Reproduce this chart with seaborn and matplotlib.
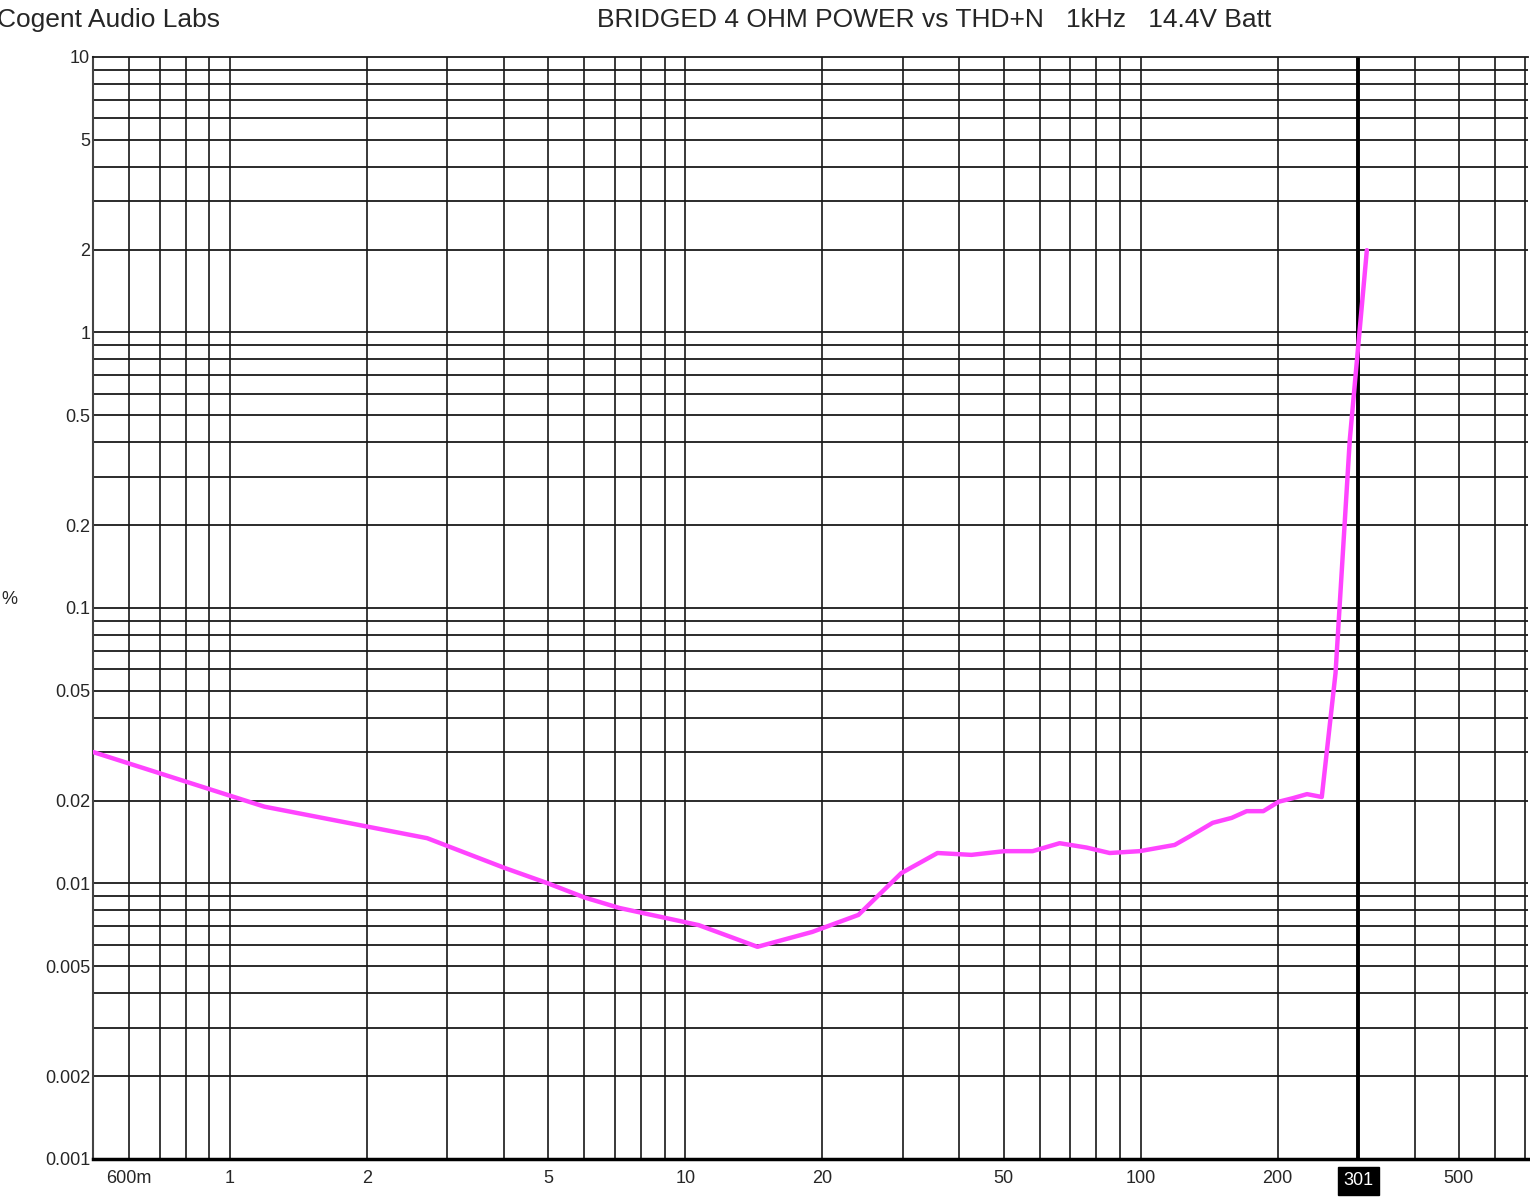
import matplotlib
matplotlib.use("Agg")
import matplotlib.pyplot as plt
import numpy as np
import pandas as pd
import seaborn as sns
from matplotlib.ticker import FixedLocator, FixedFormatter, NullFormatter

# dados (potencia em W, THD+N em %)
power_w = [0.5, 1.19, 2.71, 4.0, 5.0, 6.0, 7.16, 10.7, 14.4, 19.0, 24.0, 29.8,
           35.8, 42.5, 50.2, 57.9, 66.4, 76.1, 85.5, 99.5, 118.8, 128.0, 144.0,
           158.5, 171.0, 186.0, 201.0, 216.0, 232.0, 250.0, 268.0, 288.0, 314.0]
thd_pct = [0.0300, 0.0190, 0.0146, 0.0114, 0.0100, 0.0089, 0.00815, 0.00706,
           0.00589, 0.00667, 0.00769, 0.0109, 0.0129, 0.0127, 0.0131, 0.0131,
           0.0140, 0.0135, 0.0129, 0.0131, 0.0138, 0.0148, 0.0166, 0.0173,
           0.0183, 0.0183, 0.0198, 0.0204, 0.0211, 0.0206, 0.058, 0.407, 1.99]

x_ticks = [0.6, 1, 2, 5, 10, 20, 50, 100, 200, 500]
x_labels = ['600m', '1', '2', '5', '10', '20', '50', '100', '200', '500']
y_ticks = [10, 5, 2, 1, 0.5, 0.2, 0.1, 0.05, 0.02, 0.01, 0.005, 0.002, 0.001]
y_labels = ['10', '5', '2', '1', '0.5', '0.2', '0.1', '0.05', '0.02', '0.01',
            '0.005', '0.002', '0.001']
marker_w = 301

df = pd.DataFrame({'W': power_w, 'THD': thd_pct})

sns.set_style('white')
plt.rcParams['font.family'] = ['Liberation Sans', 'DejaVu Sans']

fig = plt.figure(figsize=(15.3, 12.02), dpi=100)
ax = fig.add_axes([0.0608, 0.0358, 0.9380, 0.9168])
ax.set_xscale('log')
ax.set_yscale('log')
ax.set_xlim(0.5, 710)
ax.set_ylim(0.001, 10)

# grade: linhas em 1..9 de cada decada
xg = [m * 10.0 ** e for e in range(-1, 3) for m in range(1, 10)]
xg = [v for v in xg if 0.5 < v < 710]
yg = [m * 10.0 ** e for e in range(-3, 2) for m in range(1, 10)]
yg = [v for v in yg if 0.001 < v < 10]
for v in xg:
    ax.axvline(v, color='#2a2a2a', lw=1.3, zorder=1)
for v in yg:
    ax.axhline(v, color='#1a1a1a', lw=1.3, zorder=1)

ax.axvline(marker_w, color='black', lw=2.8, zorder=2)

sns.lineplot(data=df, x='W', y='THD', ax=ax, color='#ff44ff', lw=3.2,
             zorder=3, legend=False)

ax.xaxis.set_major_locator(FixedLocator(x_ticks))
ax.xaxis.set_major_formatter(FixedFormatter(x_labels))
ax.xaxis.set_minor_formatter(NullFormatter())
ax.yaxis.set_major_locator(FixedLocator(y_ticks))
ax.yaxis.set_major_formatter(FixedFormatter(y_labels))
ax.yaxis.set_minor_formatter(NullFormatter())
ax.tick_params(axis='both', which='both', length=0, labelsize=13)
ax.tick_params(axis='x', pad=8)
ax.tick_params(axis='y', pad=2)

ax.set_xlabel('W', fontsize=13, labelpad=14)
ax.set_ylabel('%', fontsize=13, rotation=0, labelpad=20)
ax.yaxis.set_label_coords(-0.058, 0.5)

ax.spines['right'].set_visible(False)
ax.spines['top'].set_color('#1a1a1a')
ax.spines['top'].set_linewidth(1.3)
ax.spines['left'].set_color('#444444')
ax.spines['left'].set_linewidth(1.5)
ax.spines['bottom'].set_color('black')
ax.spines['bottom'].set_linewidth(2.5)

ax.text(marker_w, -0.012, '301', transform=ax.get_xaxis_transform(),
        ha='center', va='top', color='white', fontsize=13,
        bbox=dict(boxstyle='square,pad=0.3', fc='black', ec='black'))

fig.text(-0.002, 0.983, 'Cogent Audio Labs', fontsize=19, ha='left', va='center')
fig.text(0.6105, 0.983, 'BRIDGED 4 OHM POWER vs THD+N   1kHz   14.4V Batt',
         fontsize=19, ha='center', va='center')

fig.savefig('out.png', dpi=100)
